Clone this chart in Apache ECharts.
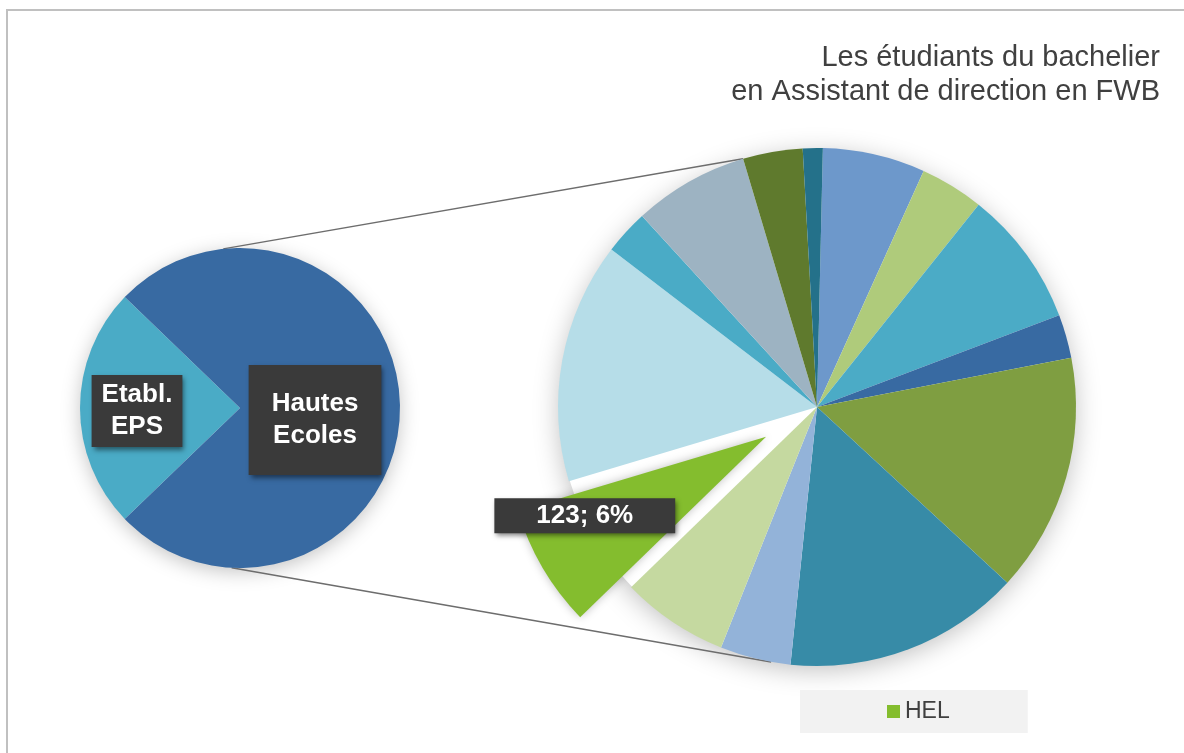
<!DOCTYPE html>
<html>
<head>
<meta charset="utf-8">
<script src="https://cdn.jsdelivr.net/npm/echarts@6/dist/echarts.min.js"></script>
<style>
html, body { margin: 0; padding: 0; background: #fff; }
#main { width: 1184px; height: 753px; }
</style>
</head>
<body>
<div id="main"></div>
<script>
// petit camembert : type d'etablissement
var typeNames = ['Etabl.\nEPS', 'Hautes\nEcoles'];
var typeValues = [520, 1611];
var typeColors = ['#4aabc6', '#386aa2'];

// grand camembert : detail des Hautes Ecoles (sens horaire depuis midi)
var heNames = ['HE 1', 'HE 2', 'HE 3', 'HE 4', 'HE 5', 'HE 6', 'HE 7', 'HE 8', 'HEL',
  'HE 10', 'HE 11', 'HE 12', 'HE 13', 'HE 14'];
var heValues = [103, 64, 137, 44, 240, 238, 71, 108, 123, 242, 45, 116, 60, 20];
var heColors = ['#6d98cb', '#afcb7b', '#4babc6', '#386aa2', '#7f9e41', '#378ba7', '#93b3d9',
  '#c5d9a0', '#84bd2e', '#b6dde8', '#4aabc6', '#9db3c2', '#5f7a2d', '#24718a'];

var legendNames = ['HEL'];

var font = "'Liberation Sans', Arial, sans-serif";
var total = typeValues[0] + typeValues[1];

// mise en page
var small = { cx: 240, cy: 408, r: 160 };
var big = { cx: 817, cy: 407, r: 259 };

function rimPoint(p, deg) {
  var a = deg * Math.PI / 180;
  return [p.cx + p.r * Math.cos(a), p.cy - p.r * Math.sin(a)];
}
var t1 = rimPoint(small, 96), t2 = rimPoint(big, 106.6);
var b1 = rimPoint(small, -93), b2 = rimPoint(big, -100.2);

var boxLabel = {
  show: true,
  position: 'inside',
  color: '#fff',
  fontFamily: font,
  fontWeight: 'bold',
  fontSize: 26,
  lineHeight: 32,
  backgroundColor: '#3a3a3a',
  shadowBlur: 5,
  shadowColor: 'rgba(0,0,0,0.5)',
  shadowOffsetX: 2,
  shadowOffsetY: 3
};

var typeData = typeValues.map(function (v, i) {
  return {
    name: typeNames[i],
    value: v,
    itemStyle: { color: typeColors[i] },
    label: Object.assign({}, boxLabel, { padding: i === 0 ? [4, 10] : [23, 23] })
  };
});

var heData = heValues.map(function (v, i) {
  var item = { name: heNames[i], value: v, itemStyle: { color: heColors[i] } };
  if (heNames[i] === 'HEL') {
    item.selected = true;
    item.itemStyle.shadowBlur = 10;
    item.itemStyle.shadowColor = 'rgba(0,0,0,0.25)';
    item.select = { itemStyle: { color: heColors[i] } };
    item.label = Object.assign({}, boxLabel, {
      lineHeight: 27,
      padding: [4, 42],
      formatter: function (p) {
        return p.value + '; ' + Math.round(p.value / total * 100) + '%';
      }
    });
  }
  return item;
});

var chart = echarts.init(document.getElementById('main'));

var option = {
  animation: false,
  backgroundColor: '#fff',
  title: {
    text: 'Les étudiants du bachelier\nen Assistant de direction en FWB',
    left: 1160,
    top: 41,
    padding: 0,
    textAlign: 'right',
    textStyle: {
      fontFamily: font,
      fontSize: 29,
      fontWeight: 'normal',
      color: '#404040',
      lineHeight: 34
    }
  },
  legend: {
    data: legendNames,
    left: 800,
    top: 690,
    padding: [10, 78, 10, 87],
    backgroundColor: '#f2f2f2',
    icon: 'rect',
    itemWidth: 13,
    itemHeight: 13,
    selectedMode: false,
    textStyle: { fontFamily: font, fontSize: 23, color: '#404040' }
  },
  graphic: [
    { type: 'polyline', z: 0, shape: { points: [[7, 753], [7, 10], [1184, 10]] },
      style: { stroke: '#c0c0c0', lineWidth: 2, fill: null } },
    { type: 'circle', z: 0, shape: { cx: small.cx, cy: small.cy, r: small.r - 1 },
      style: { fill: '#fff', shadowBlur: 20, shadowColor: 'rgba(0,0,0,0.25)', shadowOffsetY: 4 } },
    { type: 'circle', z: 0, shape: { cx: big.cx, cy: big.cy, r: big.r - 1 },
      style: { fill: '#fff', shadowBlur: 26, shadowColor: 'rgba(0,0,0,0.25)', shadowOffsetY: 5 } },
    { type: 'line', z: 0, shape: { x1: t1[0], y1: t1[1], x2: t2[0], y2: t2[1] },
      style: { stroke: '#6d6d6d', lineWidth: 1.5 } },
    { type: 'line', z: 0, shape: { x1: b1[0], y1: b1[1], x2: b2[0], y2: b2[1] },
      style: { stroke: '#6d6d6d', lineWidth: 1.5 } }
  ],
  series: [
    {
      name: 'Type',
      type: 'pie',
      center: [small.cx, small.cy],
      radius: small.r,
      startAngle: 180 + typeValues[0] / total * 180,
      clockwise: true,
      avoidLabelOverlap: false,
      labelLine: { show: false },
      emphasis: { disabled: true },
      labelLayout: function (p) {
        return p.dataIndex === 0 ? { dx: -20, dy: 3 } : { dx: -8, dy: 12 };
      },
      data: typeData
    },
    {
      name: 'Hautes Ecoles',
      type: 'pie',
      center: [big.cx, big.cy],
      radius: big.r,
      startAngle: 88.7,
      clockwise: true,
      selectedMode: 'single',
      selectedOffset: 59,
      avoidLabelOverlap: false,
      label: { show: false },
      labelLine: { show: false },
      emphasis: { disabled: true },
      labelLayout: { dx: -67, dy: 12 },
      data: heData
    }
  ]
};

chart.setOption(option);
</script>
</body>
</html>
